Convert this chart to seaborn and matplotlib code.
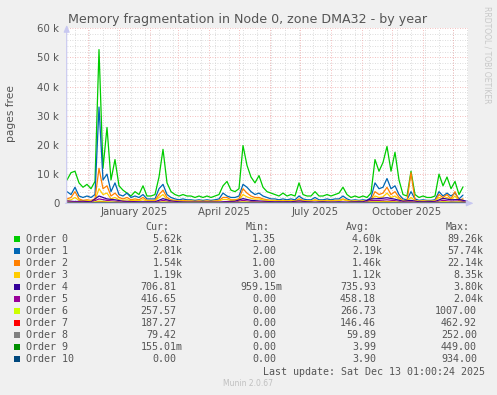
import numpy as np
import pandas as pd
import matplotlib
matplotlib.use("Agg")
import matplotlib.pyplot as plt
import seaborn as sns
from matplotlib.patches import Rectangle

# ---------------- data (values in thousands of pages) ----------------
series_names = ["Order 0", "Order 1", "Order 2", "Order 3", "Order 4", "Order 5",
                "Order 6", "Order 7", "Order 8", "Order 9", "Order 10"]
series_colors = ["#00CC00", "#0066B3", "#FF8000", "#FFCC00", "#330099", "#990099",
                 "#CCFF00", "#FF0000", "#808080", "#008F00", "#00487D"]

start_date = "2024-11-10"

# 4-day samples
order0 = [8.0, 10.5, 11.0, 7.0, 5.5, 6.5, 5.0, 7.5, 52.7, 12.0,
          26.0, 8.0, 15.0, 6.0, 4.5, 3.5, 2.5, 4.0, 3.0, 6.0,
          2.5, 2.5, 3.0, 9.0, 18.5, 7.0, 4.0, 3.0, 2.5, 3.0,
          2.5, 2.5, 2.0, 2.5, 2.0, 2.5, 2.0, 2.5, 3.0, 6.0,
          7.5, 4.5, 4.0, 5.0, 19.8, 13.0, 9.0, 7.0, 9.5, 5.5,
          4.0, 3.5, 3.0, 2.5, 3.5, 2.5, 3.0, 2.5, 7.0, 3.0,
          2.5, 2.5, 4.0, 2.5, 2.5, 3.0, 2.5, 3.0, 3.5, 5.5,
          3.0, 2.0, 2.5, 2.0, 2.5, 2.0, 3.5, 15.0, 11.0, 14.0,
          19.5, 11.0, 17.5, 8.0, 3.0, 2.5, 11.0, 3.0, 2.0, 2.5,
          2.0, 2.0, 2.5, 10.0, 6.0, 9.0, 5.0, 7.5, 3.0, 5.62]
order1 = [4.0, 3.0, 5.5, 2.5, 2.0, 2.5, 2.0, 3.0, 33.0, 8.0,
          10.0, 4.0, 7.0, 3.0, 2.5, 3.5, 2.0, 2.5, 2.0, 3.0,
          1.5, 1.5, 1.5, 5.0, 6.5, 3.0, 2.0, 1.5, 1.2, 1.5,
          1.2, 1.2, 1.0, 1.2, 1.0, 1.2, 1.0, 1.2, 1.5, 3.5,
          2.5, 2.0, 2.0, 2.5, 6.5, 5.5, 4.0, 3.0, 3.5, 2.5,
          2.0, 1.5, 1.5, 1.2, 1.5, 1.2, 1.5, 1.2, 2.5, 1.5,
          1.2, 1.2, 2.0, 1.2, 1.2, 1.5, 1.2, 1.5, 1.5, 2.5,
          1.5, 1.0, 1.2, 1.0, 1.2, 1.0, 2.0, 7.0, 5.0, 5.5,
          8.5, 5.0, 6.0, 3.0, 1.5, 1.2, 4.0, 1.5, 1.0, 1.2,
          1.0, 1.0, 1.2, 4.0, 2.5, 3.5, 2.5, 3.5, 1.5, 2.81]
order2 = [1.5, 2.0, 4.0, 1.5, 1.0, 1.2, 1.0, 1.5, 12.0, 5.0,
          6.0, 2.5, 3.5, 2.0, 1.5, 2.0, 1.2, 1.5, 1.2, 2.0,
          1.0, 1.0, 1.0, 3.0, 4.5, 2.0, 1.2, 1.0, 0.8, 1.0,
          0.8, 0.8, 0.7, 0.8, 0.7, 0.8, 0.7, 0.8, 1.0, 2.0,
          2.0, 1.2, 1.2, 1.5, 5.0, 3.5, 2.5, 2.0, 2.0, 1.5,
          1.2, 1.0, 1.0, 0.8, 1.0, 0.8, 1.0, 0.8, 1.5, 1.0,
          0.8, 0.8, 1.2, 0.8, 0.8, 1.0, 0.8, 1.0, 1.0, 1.5,
          1.0, 0.7, 0.8, 0.7, 0.8, 0.7, 1.2, 4.0, 3.0, 3.5,
          5.5, 3.0, 4.0, 2.0, 1.0, 0.8, 10.5, 1.0, 0.7, 0.8,
          0.7, 0.7, 0.8, 3.0, 2.0, 3.0, 1.5, 4.0, 1.0, 1.54]
order3 = [1.0, 1.2, 2.0, 1.0, 0.8, 1.0, 0.8, 1.0, 5.0, 3.0,
          3.5, 1.5, 2.0, 1.2, 1.0, 1.2, 0.9, 1.0, 0.9, 1.2,
          0.8, 0.8, 0.8, 2.0, 3.0, 1.3, 1.0, 0.8, 0.7, 0.8,
          0.7, 0.7, 0.6, 0.7, 0.6, 0.7, 0.6, 0.7, 0.8, 1.3,
          1.3, 1.0, 1.0, 1.1, 3.0, 2.2, 1.7, 1.4, 1.5, 1.1,
          1.0, 0.9, 0.9, 0.8, 0.9, 0.8, 0.9, 0.8, 1.2, 0.9,
          0.8, 0.8, 1.0, 0.8, 0.8, 0.9, 0.8, 0.9, 0.9, 1.2,
          0.9, 0.7, 0.8, 0.7, 0.8, 0.7, 1.0, 2.5, 2.0, 2.2,
          3.5, 2.0, 2.5, 1.4, 0.9, 0.8, 2.0, 0.9, 0.7, 0.8,
          0.7, 0.7, 0.8, 2.0, 1.5, 2.0, 1.2, 2.5, 0.9, 1.19]

# 8-day samples
order4 = [0.8, 0.6, 0.7, 0.5, 2.5, 1.5, 1.2, 0.7, 0.6, 0.5,
          0.5, 0.5, 1.6, 0.8, 0.5, 0.4, 0.4, 0.4, 0.4, 0.4,
          0.6, 0.7, 1.6, 1.0, 0.8, 0.6, 0.5, 0.5, 0.5, 0.8,
          0.5, 0.4, 0.5, 0.4, 0.5, 0.4, 0.5, 0.5, 1.5, 1.6,
          1.9, 1.4, 0.7, 1.0, 0.5, 0.5, 0.6, 1.7, 1.2, 1.3, 0.71]
order5 = [0.5, 0.4, 0.4, 0.3, 1.5, 1.0, 0.7, 0.4, 0.4, 0.3,
          0.3, 0.3, 1.0, 0.5, 0.3, 0.3, 0.3, 0.3, 0.3, 0.3,
          0.4, 0.4, 1.0, 0.6, 0.5, 0.4, 0.3, 0.3, 0.3, 0.5,
          0.3, 0.3, 0.3, 0.3, 0.3, 0.3, 0.3, 0.3, 0.9, 1.0,
          1.2, 0.9, 0.4, 0.6, 0.3, 0.3, 0.4, 1.0, 0.7, 0.8, 0.42]
order6 = [0.3, 0.25, 0.25, 0.2, 0.8, 0.5, 0.4, 0.25, 0.25, 0.2,
          0.2, 0.2, 0.5, 0.3, 0.2, 0.2, 0.2, 0.2, 0.2, 0.2,
          0.25, 0.25, 0.5, 0.35, 0.3, 0.25, 0.2, 0.2, 0.2, 0.3,
          0.2, 0.2, 0.2, 0.2, 0.2, 0.2, 0.2, 0.2, 0.5, 0.55,
          0.6, 0.5, 0.25, 0.35, 0.2, 0.2, 0.25, 0.55, 0.4, 0.45, 0.26]
order7 = [0.18, 0.15, 0.15, 0.12, 0.4, 0.3, 0.2, 0.15, 0.15, 0.12,
          0.12, 0.12, 0.3, 0.18, 0.12, 0.12, 0.12, 0.12, 0.12, 0.12,
          0.15, 0.15, 0.3, 0.2, 0.18, 0.15, 0.12, 0.12, 0.12, 0.18,
          0.12, 0.12, 0.12, 0.12, 0.12, 0.12, 0.12, 0.12, 0.3, 0.3,
          0.35, 0.3, 0.15, 0.2, 0.12, 0.12, 0.15, 0.3, 0.22, 0.25, 0.19]
order8 = [0.08, 0.06, 0.06, 0.05, 0.2, 0.12, 0.08, 0.06, 0.06, 0.05,
          0.05, 0.05, 0.12, 0.07, 0.05, 0.05, 0.05, 0.05, 0.05, 0.05,
          0.06, 0.06, 0.12, 0.08, 0.07, 0.06, 0.05, 0.05, 0.05, 0.07,
          0.05, 0.05, 0.05, 0.05, 0.05, 0.05, 0.05, 0.05, 0.12, 0.12,
          0.15, 0.12, 0.06, 0.08, 0.05, 0.05, 0.06, 0.12, 0.09, 0.1, 0.08]
order9 = [0.0, 0.0, 0.0, 0.0, 0.02, 0.01, 0.0, 0.0, 0.0, 0.0,
          0.0, 0.0, 0.01, 0.0, 0.0, 0.0, 0.0, 0.0, 0.0, 0.0,
          0.0, 0.0, 0.01, 0.0, 0.0, 0.0, 0.0, 0.0, 0.0, 0.0,
          0.0, 0.0, 0.0, 0.0, 0.0, 0.0, 0.0, 0.0, 0.01, 0.01,
          0.01, 0.0, 0.0, 0.0, 0.0, 0.0, 0.0, 0.01, 0.0, 0.0, 0.0]
order10 = [0.0, 0.0, 0.0, 0.0, 0.02, 0.01, 0.0, 0.0, 0.0, 0.0,
           0.0, 0.0, 0.0, 0.0, 0.0, 0.0, 0.0, 0.0, 0.0, 0.0,
           0.0, 0.0, 0.01, 0.0, 0.0, 0.0, 0.0, 0.0, 0.0, 0.0,
           0.0, 0.0, 0.0, 0.0, 0.0, 0.0, 0.0, 0.0, 0.0, 0.01,
           0.0, 0.0, 0.0, 0.0, 0.0, 0.0, 0.0, 0.0, 0.0, 0.0, 0.0]
series_values = [order0, order1, order2, order3, order4, order5,
                 order6, order7, order8, order9, order10]
series_step_days = [4, 4, 4, 4, 8, 8, 8, 8, 8, 8, 8]

cur_vals = ["5.62k", "2.81k", "1.54k", "1.19k", "706.81", "416.65", "257.57",
            "187.27", "79.42", "155.01m", "0.00"]
min_vals = ["1.35", "2.00", "1.00", "3.00", "959.15m", "0.00", "0.00",
            "0.00", "0.00", "0.00", "0.00"]
avg_vals = ["4.60k", "2.19k", "1.46k", "1.12k", "735.93", "458.18", "266.73",
            "146.46", "59.89", "3.99", "3.90"]
max_vals = ["89.26k", "57.74k", "22.14k", "8.35k", "3.80k", "2.04k", "1007.00",
            "462.92", "252.00", "449.00", "934.00"]

y_ticks = [0, 10, 20, 30, 40, 50, 60]
y_tick_labels = ["0", "10 k", "20 k", "30 k", "40 k", "50 k", "60 k"]
x_label_dates = ["2025-01-16", "2025-04-16", "2025-07-16", "2025-10-16"]
x_labels = ["January 2025", "April 2025", "July 2025", "October 2025"]
month_starts = ["2024-12-01", "2025-01-01", "2025-02-01", "2025-03-01", "2025-04-01",
                "2025-05-01", "2025-06-01", "2025-07-01", "2025-08-01", "2025-09-01",
                "2025-10-01", "2025-11-01", "2025-12-01"]

title = "Memory fragmentation in Node 0, zone DMA32 - by year"
y_title = "pages free"
last_update = "Last update: Sat Dec 13 01:00:24 2025"
footer = "Munin 2.0.67"
watermark = "RRDTOOL / TOBI OETIKER"

# ---------------- figure ----------------
sns.set_theme(style="white")
plt.rcParams['font.family'] = ['DejaVu Sans']

W, H = 497, 395
fig = plt.figure(figsize=(W / 100, H / 100), dpi=100, facecolor="#f0f0f0")
L, R, T, B = 66.7, 468.3, 28.3, 203.3
ax = fig.add_axes([L / W, (H - B) / H, (R - L) / W, (B - T) / H])
ax.set_facecolor("white")

x_left = pd.Timestamp("2025-01-01") - pd.Timedelta(days=52.3)
x_right = pd.Timestamp("2025-01-01") + pd.Timedelta(days=349.3)

# grid
minor_x = pd.date_range("2024-11-18", "2025-12-15", freq="14D")
for d in minor_x:
    ax.axvline(d, color="#d0d0d0", lw=0.6, ls=(0, (1, 2)), zorder=0)
for v in np.arange(2, 60, 2):
    if v % 10:
        ax.axhline(v, color="#d0d0d0", lw=0.6, ls=(0, (1, 2)), zorder=0)
for d in month_starts:
    ax.axvline(pd.Timestamp(d), color="#f0a8a8", lw=0.6, ls=(0, (1, 2)), zorder=0.5)
for v in y_ticks[1:]:
    ax.axhline(v, color="#f0a8a8", lw=0.6, ls=(0, (1, 2)), zorder=0.5)

# series
for name, vals, col, step in zip(series_names, series_values, series_colors, series_step_days):
    dates = pd.date_range(start_date, periods=len(vals), freq=f"{step}D")
    sns.lineplot(x=dates, y=vals, color=col, lw=0.9, ax=ax, estimator=None,
                 sort=False, legend=False, zorder=2)

ax.set_xlim(x_left, x_right)
ax.set_ylim(0, 60)
for s in ax.spines.values():
    s.set_visible(False)
ax.set_xlabel("")
ax.set_ylabel("")
ax.set_yticks(y_ticks)
ax.set_yticklabels(y_tick_labels)
ax.set_xticks([pd.Timestamp(d) for d in x_label_dates])
ax.set_xticklabels(x_labels)
ax.tick_params(axis="both", length=0, labelsize=7.3, colors="#555555")
ax.tick_params(axis="y", pad=5.3)
ax.tick_params(axis="x", pad=3.0)

# axis lines with arrows
axis_col = "#c8c8f0"
ax.annotate("", xy=(0, 1.035), xytext=(0, -0.015), xycoords="axes fraction",
            arrowprops=dict(arrowstyle="-|>,head_width=0.15,head_length=0.35",
                            color=axis_col, lw=0.8), annotation_clip=False)
ax.annotate("", xy=(1.02, 0), xytext=(-0.01, 0), xycoords="axes fraction",
            arrowprops=dict(arrowstyle="-|>,head_width=0.15,head_length=0.35",
                            color=axis_col, lw=0.8), annotation_clip=False)


def ftxt(x, y, s, **kw):
    fig.text(x / W, 1 - y / H, s, **kw)


txt_col = "#555555"
ftxt(248.0, 19.5, title, ha="center", va="center", fontsize=9.1, color=txt_col)
ftxt(11, 114, y_title, ha="center", va="center", rotation=90, fontsize=7.7, color=txt_col)
ftxt(487.5, 6, watermark, ha="center", va="top", rotation=270, fontsize=5.5, color="#c8c8c8")

mono = dict(family="DejaVu Sans Mono", fontsize=7.2, color=txt_col, va="center")
charw = 6.04
col_right = [182.5, 282.0, 382.0, 483.0]
headers = ["Cur:", "Min:", "Avg:", "Max:"]
header_right = [169.5, 269.5, 369.5, 470.0]
for hx, h in zip(header_right, headers):
    ftxt(hx, 226.7, h, ha="right", **mono)

row_y0, row_dy = 239.3, 12.0
for i, name in enumerate(series_names):
    y = row_y0 + i * row_dy
    fig.patches.append(Rectangle(((14) / W, 1 - (y + 3) / H), 6 / W, 6 / H,
                                 transform=fig.transFigure, facecolor=series_colors[i],
                                 edgecolor="none"))
    ftxt(26, y, name, ha="left", **mono)
    for cx, vals in zip(col_right, [cur_vals, min_vals, avg_vals, max_vals]):
        s = vals[i]
        xr = cx if s[-1].isalpha() else cx - charw
        ftxt(xr, y, s, ha="right", **mono)

ftxt(485, 372.3, last_update, ha="right", **mono)
ftxt(248, 383.5, footer, ha="center", va="center", fontsize=5.5, color="#c0c0c0")

fig.savefig("out.png", dpi=100, facecolor=fig.get_facecolor())
